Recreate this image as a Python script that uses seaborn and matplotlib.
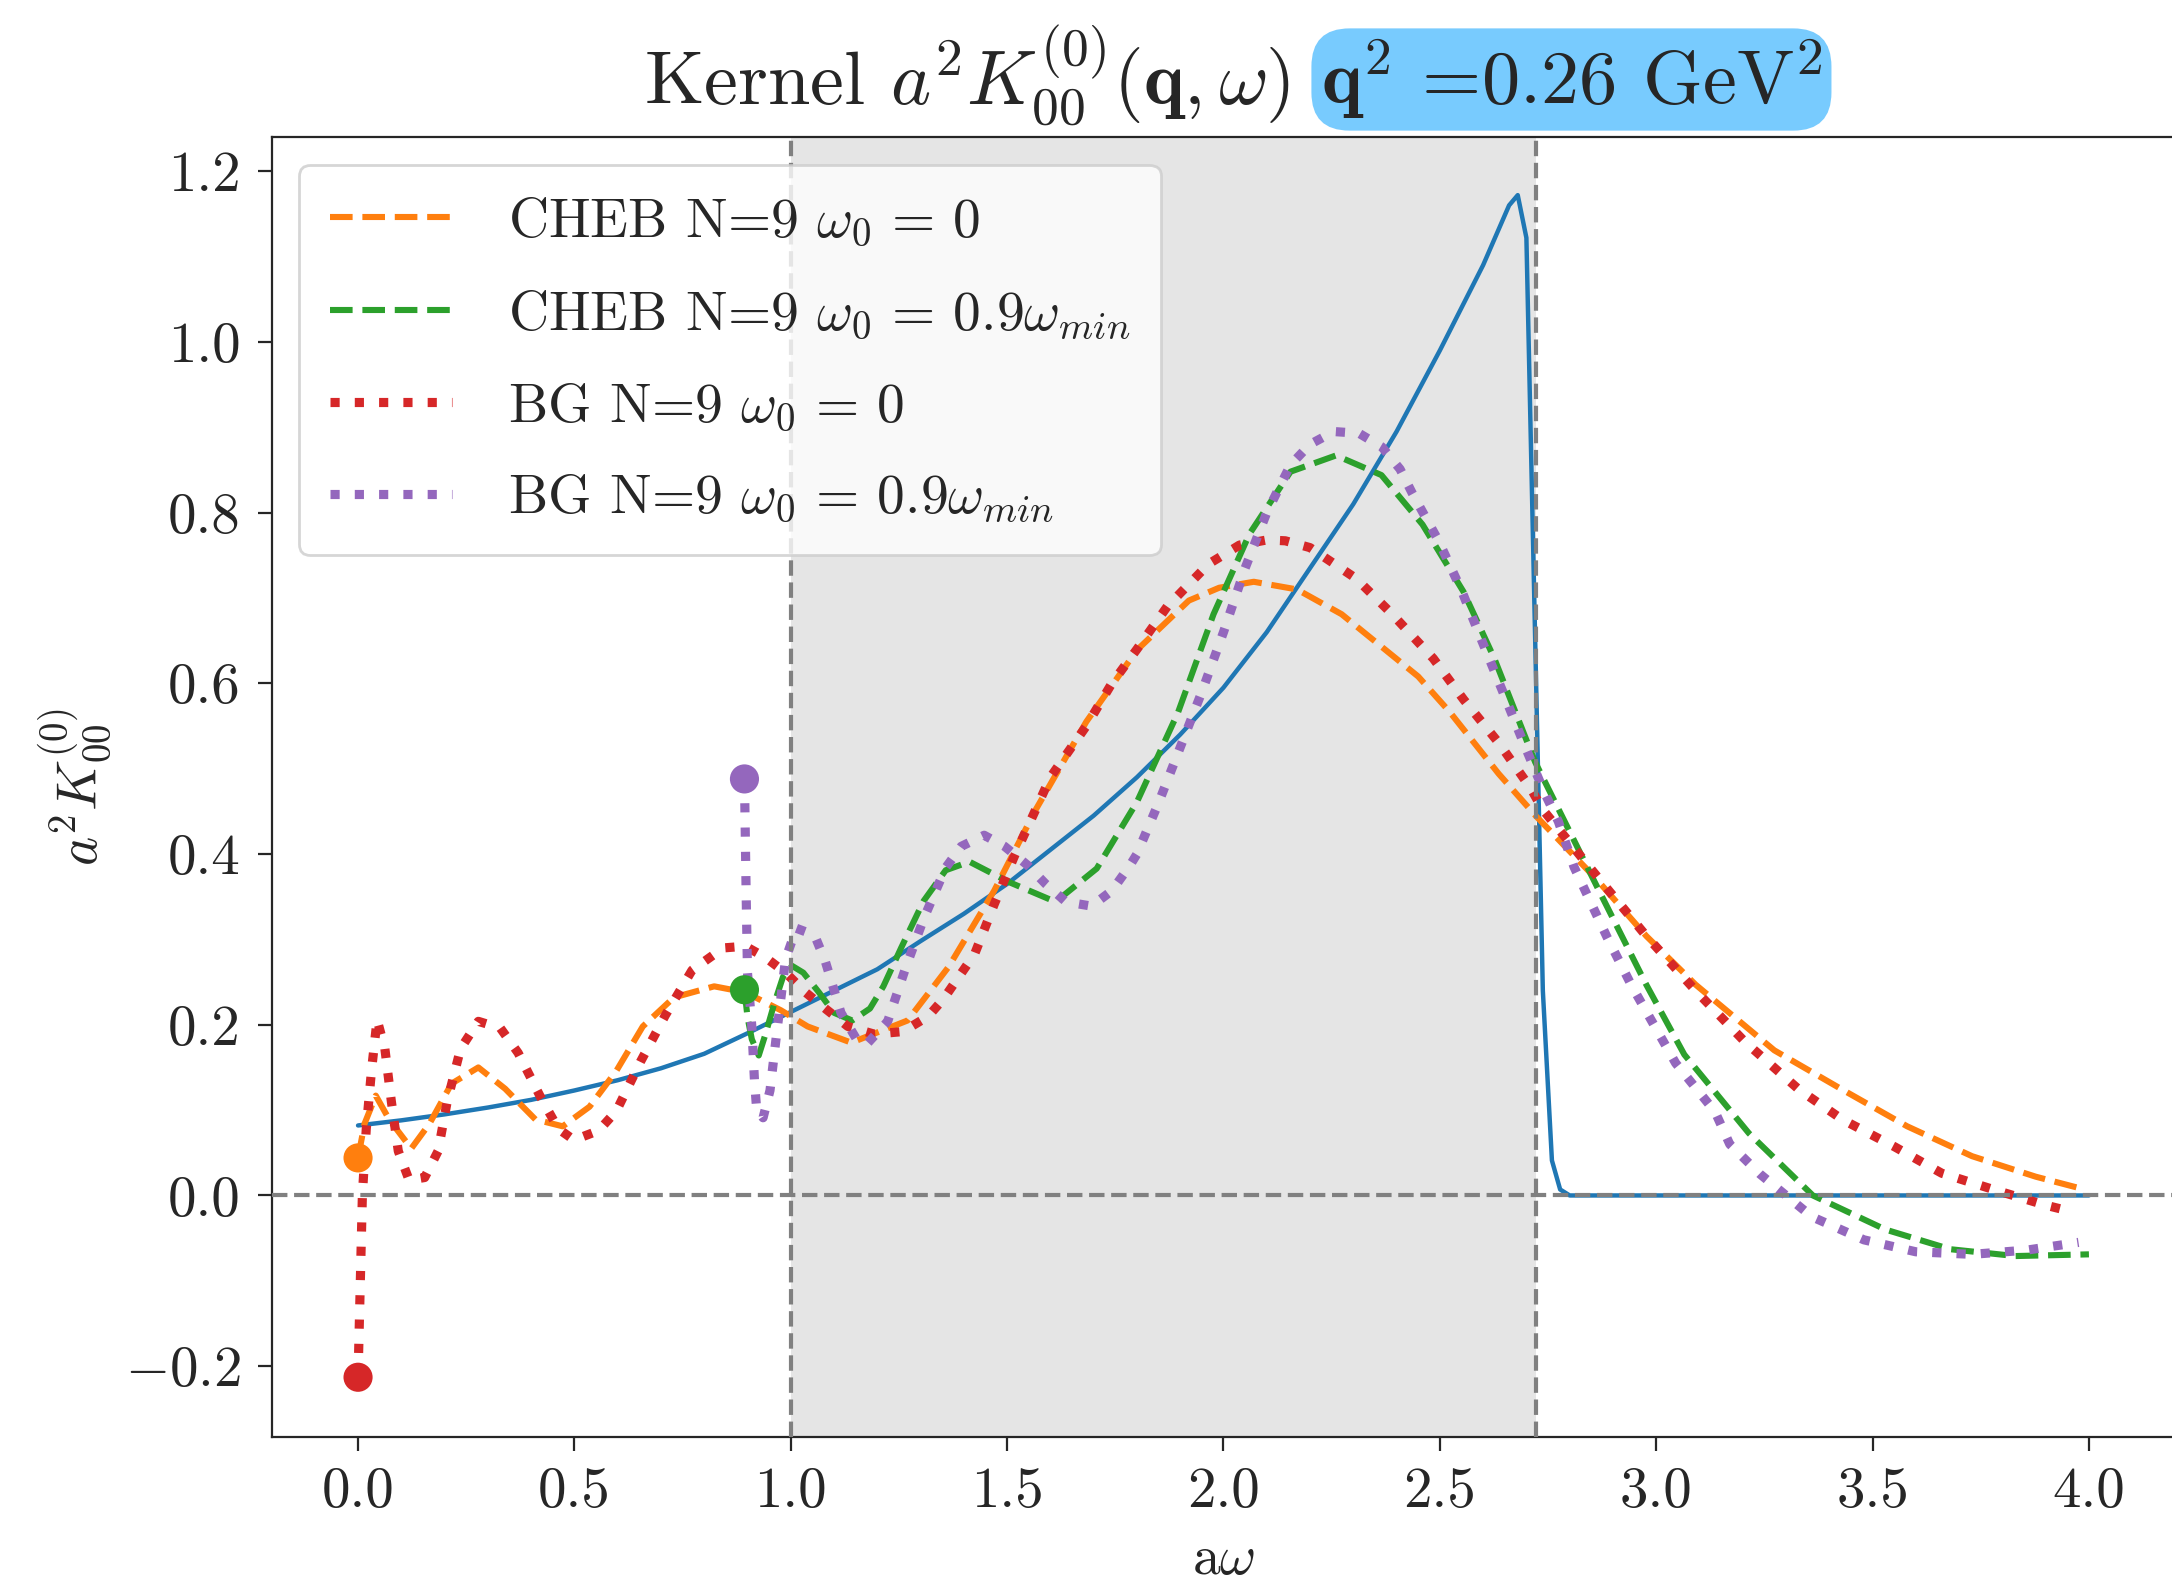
import matplotlib
matplotlib.use("Agg")
import matplotlib.pyplot as plt
import seaborn as sns

# kernel (blue, exact)
kern_x = [0.0, 0.1, 0.2, 0.3, 0.4, 0.5, 0.6, 0.7, 0.8, 0.9, 1.0, 1.1, 1.2, 1.3, 1.4, 1.5,
          1.6, 1.7, 1.8, 1.9, 2.0, 2.1, 2.2, 2.3, 2.4, 2.5, 2.6, 2.66, 2.68, 2.70, 2.738,
          2.759, 2.778, 2.80, 3.0, 3.5, 4.0]
kern_y = [0.082, 0.088, 0.095, 0.103, 0.112, 0.123, 0.135, 0.149, 0.166, 0.19, 0.215, 0.24,
          0.265, 0.298, 0.33, 0.365, 0.405, 0.445, 0.49, 0.54, 0.595, 0.66, 0.735, 0.81, 0.895,
          0.99, 1.09, 1.16, 1.172, 1.122, 0.24, 0.041, 0.007, 0.0, 0.0, 0.0, 0.0]

# CHEB N=9, w0 = 0
cheb0_x = [0.0, 0.015, 0.041, 0.072, 0.123, 0.165, 0.216, 0.278, 0.34, 0.41, 0.473, 0.535,
           0.597, 0.658, 0.73, 0.823, 0.895, 0.977, 1.039, 1.14, 1.27, 1.365, 1.47, 1.565,
           1.683, 1.80, 1.92, 1.99, 2.07, 2.17, 2.273, 2.45, 2.522, 2.636, 2.723, 2.863,
           2.977, 3.091, 3.273, 3.43, 3.58, 3.73, 3.877, 3.99]
cheb0_y = [0.044, 0.084, 0.117, 0.089, 0.055, 0.084, 0.131, 0.150, 0.125, 0.089, 0.081, 0.104,
           0.146, 0.198, 0.232, 0.245, 0.238, 0.217, 0.198, 0.179, 0.205, 0.268, 0.357, 0.451,
           0.555, 0.639, 0.697, 0.712, 0.719, 0.710, 0.681, 0.608, 0.567, 0.494, 0.444, 0.370,
           0.304, 0.247, 0.170, 0.124, 0.081, 0.046, 0.022, 0.007]

# CHEB N=9, w0 = 0.9 wmin
chebm_x = [0.893, 0.90, 0.91, 0.926, 0.941, 0.962, 0.982, 1.003, 1.029, 1.065, 1.1, 1.142,
           1.183, 1.214, 1.255, 1.307, 1.358, 1.413, 1.505, 1.612, 1.707, 1.80, 1.895, 1.977,
           2.06, 2.155, 2.26, 2.365, 2.46, 2.555, 2.626, 2.72, 2.863, 2.977, 3.065, 3.214,
           3.362, 3.53, 3.68, 3.83, 4.0]
chebm_y = [0.241, 0.209, 0.183, 0.164, 0.188, 0.225, 0.256, 0.269, 0.261, 0.238, 0.214, 0.205,
           0.219, 0.245, 0.290, 0.345, 0.381, 0.391, 0.367, 0.344, 0.383, 0.461, 0.566, 0.681,
           0.775, 0.848, 0.867, 0.844, 0.786, 0.707, 0.629, 0.508, 0.362, 0.247, 0.165, 0.073,
           0.0, -0.040, -0.063, -0.071, -0.069]

# BG N=9, w0 = 0
bg0_x = [0.0, 0.01, 0.019, 0.031, 0.044, 0.062, 0.077, 0.093, 0.118, 0.154, 0.185, 0.206,
         0.237, 0.278, 0.329, 0.37, 0.422, 0.463, 0.499, 0.556, 0.597, 0.653, 0.71, 0.772,
         0.844, 0.895, 0.941, 0.988, 1.034, 1.082, 1.132, 1.193, 1.259, 1.318, 1.354, 1.425,
         1.47, 1.518, 1.565, 1.60, 1.683, 1.742, 1.80, 1.87, 1.966, 2.037, 2.1, 2.143, 2.2,
         2.306, 2.39, 2.485, 2.555, 2.638, 2.71, 2.738, 2.863, 2.977, 3.091, 3.205, 3.33,
         3.43, 3.551, 3.66, 3.779, 3.897, 3.96]
bg0_y = [-0.213, 0.0, 0.078, 0.146, 0.206, 0.172, 0.110, 0.052, 0.018, 0.021, 0.052, 0.110,
         0.172, 0.204, 0.196, 0.167, 0.115, 0.078, 0.065, 0.076, 0.099, 0.157, 0.211, 0.264,
         0.290, 0.292, 0.279, 0.261, 0.238, 0.218, 0.198, 0.189, 0.192, 0.210, 0.231, 0.283,
         0.341, 0.399, 0.451, 0.49, 0.55, 0.60, 0.64, 0.69, 0.74, 0.762, 0.768, 0.767, 0.759,
         0.723, 0.681, 0.629, 0.581, 0.529, 0.477, 0.452, 0.374, 0.304, 0.24, 0.18, 0.124,
         0.089, 0.057, 0.026, 0.007, -0.011, -0.019]

# BG N=9, w0 = 0.9 wmin
bgm_x = [0.893, 0.897, 0.90, 0.91, 0.916, 0.921, 0.936, 0.952, 0.967, 0.988, 1.013, 1.055,
         1.08, 1.116, 1.152, 1.175, 1.224, 1.265, 1.307, 1.358, 1.394, 1.447, 1.494, 1.547,
         1.589, 1.636, 1.695, 1.742, 1.783, 1.8, 1.85, 1.9, 1.95, 2.0, 2.05, 2.1, 2.155, 2.2,
         2.255, 2.313, 2.366, 2.408, 2.437, 2.497, 2.55, 2.597, 2.644, 2.692, 2.74, 2.774,
         2.81, 2.887, 2.944, 3.045, 3.136, 3.17, 3.24, 3.30, 3.36, 3.48, 3.6, 3.73, 3.857, 3.976]
bgm_y = [0.488, 0.35, 0.261, 0.198, 0.136, 0.102, 0.091, 0.123, 0.188, 0.277, 0.313, 0.305,
         0.274, 0.214, 0.183, 0.177, 0.204, 0.266, 0.324, 0.384, 0.409, 0.422, 0.409, 0.387,
         0.365, 0.344, 0.339, 0.357, 0.386, 0.40, 0.46, 0.525, 0.59, 0.66, 0.735, 0.80, 0.856,
         0.88, 0.895, 0.893, 0.877, 0.851, 0.822, 0.767, 0.709, 0.650, 0.592, 0.532, 0.474,
         0.438, 0.385, 0.302, 0.245, 0.155, 0.098, 0.06, 0.025, 0.0, -0.025, -0.052, -0.066,
         -0.069, -0.064, -0.055]

# first point of each approximation (marked with a dot)
start_x = [0.0, 0.893, 0.0, 0.893]
start_y = [0.044, 0.241, -0.213, 0.488]

labels = [r"CHEB N=9 $\omega_0 \,=\, 0$", r"CHEB N=9 $\omega_0 \,=\, 0.9\omega_{min}$",
          r"BG N=9 $\omega_0 \,=\, 0$", r"BG N=9 $\omega_0 \,=\, 0.9\omega_{min}$"]
colors = ["C1", "C2", "C3", "C4"]

w_min = 1.0
w_max = 2.723

sns.set_style("ticks")
plt.rcParams["font.family"] = "serif"
plt.rcParams["font.serif"] = ["cmr10"]
plt.rcParams["mathtext.fontset"] = "cm"
plt.rcParams["axes.formatter.use_mathtext"] = True
plt.rcParams["axes.unicode_minus"] = True

fig = plt.figure(figsize=(10.86, 7.915), dpi=200)
ax = fig.add_axes([0.125, 0.0925, 0.8766, 0.8209])

ax.axvspan(w_min, w_max, color="gray", alpha=0.2, lw=0, zorder=0)

sns.lineplot(x=kern_x, y=kern_y, ax=ax, color="C0", lw=1.6, sort=False, estimator=None)
curves = [(cheb0_x, cheb0_y, "--", 2.2), (chebm_x, chebm_y, "--", 2.2),
          (bg0_x, bg0_y, ":", 3.3), (bgm_x, bgm_y, ":", 3.3)]
for (cx, cy, ls, lw), lab, col in zip(curves, labels, colors):
    sns.lineplot(x=cx, y=cy, ax=ax, color=col, linestyle=ls, lw=lw, label=lab,
                 sort=False, estimator=None)

ax.scatter(start_x, start_y, c=colors, s=110, zorder=5, linewidths=0)

ax.axhline(0, color="gray", ls="--", lw=1.5, zorder=3)
ax.axvline(w_min, color="gray", ls="--", lw=1.5, zorder=3)
ax.axvline(w_max, color="gray", ls="--", lw=1.5, zorder=3)

ax.set_xlim(-0.2, 4.2)
ax.set_ylim(-0.2825, 1.240)
ax.set_xticks([0.0, 0.5, 1.0, 1.5, 2.0, 2.5, 3.0, 3.5, 4.0])
ax.set_yticks([-0.2, 0.0, 0.2, 0.4, 0.6, 0.8, 1.0, 1.2])
ax.set_xticklabels(["0.0", "0.5", "1.0", "1.5", "2.0", "2.5", "3.0", "3.5", "4.0"])
ax.set_yticklabels([r"$-0.2$", "0.0", "0.2", "0.4", "0.6", "0.8", "1.0", "1.2"])
ax.tick_params(labelsize=20.5, length=5, pad=6)
ax.set_xlabel(r"a$\omega$", fontsize=20, labelpad=6)
ax.set_ylabel(r"$a^2K^{(0)}_{00}$", fontsize=20, labelpad=4)

ax.legend(loc="upper left", fontsize=20, handlelength=2.2, handletextpad=1.0,
          labelspacing=0.72, borderpad=0.55)

fig.text(0.594, 0.934, r"Kernel $a^2K^{(0)}_{00}(\mathbf{q},\omega)$", fontsize=27.5,
         ha="right", va="baseline")
fig.text(0.608, 0.934, r"$\mathbf{q}^2$ =0.26 GeV$^2$", fontsize=27.5, ha="left", va="baseline",
         bbox=dict(boxstyle="round,pad=0.12,rounding_size=0.5", fc="#78cbfe", ec="none"))

fig.savefig("out.png", dpi=200)
